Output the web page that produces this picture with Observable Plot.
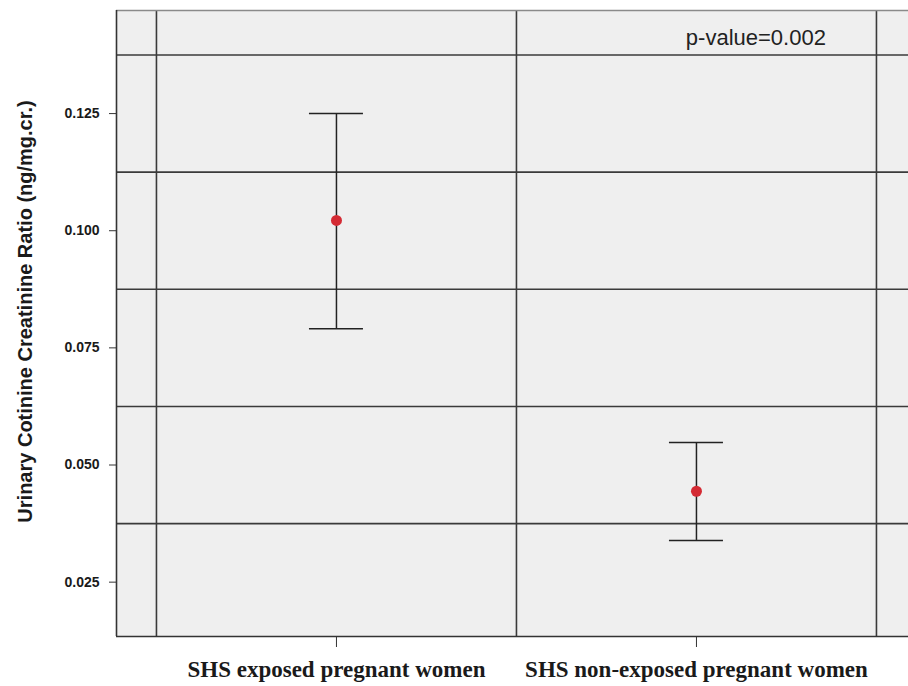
<!DOCTYPE html>
<html><head><meta charset="utf-8">
<script src="https://cdn.jsdelivr.net/npm/d3@7"></script>
<script src="https://cdn.jsdelivr.net/npm/@observablehq/plot@0.6"></script>
<style>body{margin:0;background:#fff}</style>
</head><body><div id="chart"></div>
<script>
const groups = ["SHS exposed pregnant women", "SHS non-exposed pregnant women"];
const means = [0.1022, 0.0444];
const lower = [0.0791, 0.0339];
const upper = [0.1250, 0.0548];
const yTicks = [0.025, 0.050, 0.075, 0.100, 0.125];
const yGrid = [0.0375, 0.0625, 0.0875, 0.1125, 0.1375];
const yTitle = "Urinary Cotinine Creatinine Ratio (ng/mg.cr.)";
const pLabel = "p-value=0.002";

const data = groups.map((g, i) => ({g, pos: i + 1, mean: means[i], lo: lower[i], hi: upper[i]}));
const positions = data.map(d => d.pos);
const xGrid = d3.range(groups.length + 1).map(i => i + 0.5);
const xDomain = [0.389, groups.length + 0.589];
const yDomain = [0.0134, 0.1470];
const capHalf = 0.075;
const gridColor = "#3a3a3a";

const chart = Plot.plot({
  width: 908,
  height: 686,
  marginLeft: 116,
  marginRight: 0,
  marginTop: 10,
  marginBottom: 50,
  style: {fontFamily: "'Liberation Sans', Arial, sans-serif", color: "#1a1a1a", background: "#fff"},
  x: {type: "linear", domain: xDomain, axis: null},
  y: {domain: yDomain, axis: null},
  marks: [
    Plot.frame({fill: "#efefef", stroke: null}),
    Plot.ruleY(yGrid, {stroke: gridColor, strokeWidth: 1.6}),
    Plot.ruleX(xGrid, {stroke: gridColor, strokeWidth: 1.6}),
    Plot.ruleY([yDomain[1]], {stroke: "#8a8a8a", strokeWidth: 1.6}),
    Plot.ruleX([xDomain[0]], {stroke: "#333", strokeWidth: 1.6}),
    Plot.ruleY([yDomain[0]], {stroke: "#333", strokeWidth: 1.6}),
    Plot.ruleX(data, {x: "pos", y1: "lo", y2: "hi", stroke: "#222", strokeWidth: 1.5}),
    Plot.ruleY(data, {y: "hi", x1: d => d.pos - capHalf, x2: d => d.pos + capHalf, stroke: "#222", strokeWidth: 1.5}),
    Plot.ruleY(data, {y: "lo", x1: d => d.pos - capHalf, x2: d => d.pos + capHalf, stroke: "#222", strokeWidth: 1.5}),
    Plot.dot(data, {x: "pos", y: "mean", r: 5.5, fill: "#d42a33", stroke: null}),
    Plot.text([pLabel], {x: () => groups.length + 0.165, frameAnchor: "top", lineAnchor: "middle", textAnchor: "middle", dy: 27, fontSize: 22, fill: "#222", fontFamily: "'Liberation Sans', Arial, sans-serif"}),
    Plot.axisY(yTicks, {tickFormat: d3.format(".3f"), fontSize: 14, fontWeight: "bold", tickSize: 7, tickPadding: 10, label: null, stroke: "#333"}),
    Plot.axisX(positions, {tickFormat: i => groups[i - 1], fontSize: 23, fontWeight: "bold", fontFamily: "'Liberation Serif', 'Times New Roman', serif", tickSize: 11, tickPadding: 13, label: null, stroke: "#333"}),
    Plot.text([yTitle], {frameAnchor: "left", textAnchor: "middle", lineAnchor: "middle", rotate: -90, dx: -91, dy: -12, fontSize: 20, fontWeight: "bold", fill: "#1a1a1a"})
  ]
});
document.getElementById("chart").append(chart);
</script>
</body></html>
